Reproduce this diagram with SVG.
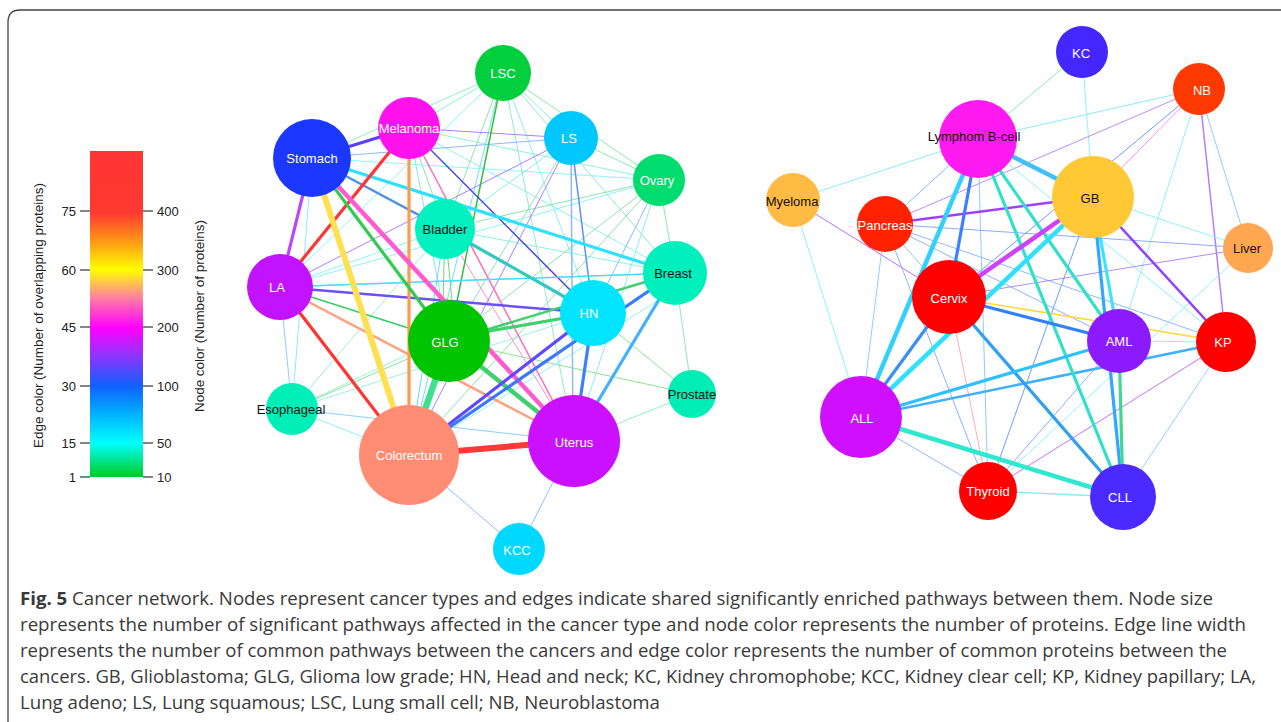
<svg xmlns="http://www.w3.org/2000/svg" width="1281" height="722" viewBox="0 0 1281 722">
<defs>
<linearGradient id="bar" x1="0" y1="0" x2="0" y2="1">
<stop offset="0" stop-color="#ff3535"/>
<stop offset="0.19" stop-color="#ff3a30"/>
<stop offset="0.27" stop-color="#ff9018"/>
<stop offset="0.365" stop-color="#ffff00"/>
<stop offset="0.45" stop-color="#ff80a0"/>
<stop offset="0.543" stop-color="#ff00ff"/>
<stop offset="0.62" stop-color="#9a30ff"/>
<stop offset="0.72" stop-color="#1060ff"/>
<stop offset="0.81" stop-color="#00b4ff"/>
<stop offset="0.896" stop-color="#00ffff"/>
<stop offset="1" stop-color="#00cc22"/>
</linearGradient>
</defs>
<style>
.lbl{font-family:"Liberation Sans",Arial,sans-serif;font-size:13px;text-anchor:middle}
.w{fill:#ffffff}
.b{fill:#111111}
.tick{stroke:#333;stroke-width:1.2}
.tl{font-family:"Liberation Sans",Arial,sans-serif;font-size:13px;fill:#222}
.cap{font-family:"Open Sans","Liberation Sans",sans-serif;font-size:17.5px;fill:#3a3a3a}
#edges line{fill:none;stroke-linecap:butt}
.t{stroke-width:0.9}
.m{stroke-width:1.5}
.k{stroke-width:2.5}
.x{stroke-width:3.2}
.xx{stroke-width:4.5}
</style>
<rect width="1281" height="722" fill="#ffffff"/>
<path d="M8,722 L8,22 Q8,10 20,10 L1281,10" fill="none" stroke="#444" stroke-width="1.3"/>

<g id="legend">
<rect x="90" y="151" width="53" height="326" fill="url(#bar)"/>
<line class="tick" x1="80" y1="211" x2="90" y2="211"/>
<line class="tick" x1="80" y1="270" x2="90" y2="270"/>
<line class="tick" x1="80" y1="327" x2="90" y2="327"/>
<line class="tick" x1="80" y1="386" x2="90" y2="386"/>
<line class="tick" x1="80" y1="443" x2="90" y2="443"/>
<line class="tick" x1="80" y1="477" x2="90" y2="477"/>
<line class="tick" x1="143" y1="211" x2="153" y2="211"/>
<line class="tick" x1="143" y1="270" x2="153" y2="270"/>
<line class="tick" x1="143" y1="327" x2="153" y2="327"/>
<line class="tick" x1="143" y1="386" x2="153" y2="386"/>
<line class="tick" x1="143" y1="443" x2="153" y2="443"/>
<line class="tick" x1="143" y1="477" x2="153" y2="477"/>
<g class="tl" text-anchor="end">
<text x="76" y="216">75</text>
<text x="76" y="275">60</text>
<text x="76" y="332">45</text>
<text x="76" y="391">30</text>
<text x="76" y="448">15</text>
<text x="76" y="482">1</text>
</g>
<g class="tl">
<text x="157" y="216">400</text>
<text x="157" y="275">300</text>
<text x="157" y="332">200</text>
<text x="157" y="391">100</text>
<text x="157" y="448">50</text>
<text x="157" y="482">10</text>
</g>
<text class="tl" transform="translate(42.5,315.5) rotate(-90)" text-anchor="middle" textLength="265" lengthAdjust="spacingAndGlyphs">Edge color (Number of overlapping proteins)</text>
<text class="tl" transform="translate(203.5,316) rotate(-90)" text-anchor="middle" textLength="192" lengthAdjust="spacingAndGlyphs">Node color (Number of proteins)</text>
</g>

<g id="edges">
<!-- left network thin -->
<line class="t" stroke="#80e8ff" x1="312" y1="158" x2="292" y2="409"/>
<line class="t" stroke="#80c8ff" x1="280" y1="287" x2="292" y2="409"/>
<line class="t" stroke="#70e090" x1="292" y1="409" x2="449" y2="341"/>
<line class="t" stroke="#90f0d0" x1="292" y1="409" x2="449" y2="335"/>
<line class="t" stroke="#90f0d0" x1="292" y1="409" x2="445" y2="229"/>
<line class="t" stroke="#90f0e0" x1="292" y1="409" x2="593" y2="313"/>
<line class="t" stroke="#80f0ff" x1="292" y1="409" x2="409" y2="455"/>
<line class="t" stroke="#80c8ff" x1="292" y1="409" x2="574" y2="441"/>
<line class="t" stroke="#80b8ff" x1="409" y1="455" x2="519" y2="549"/>
<line class="t" stroke="#80b8ff" x1="574" y1="441" x2="519" y2="549"/>
<line class="t" stroke="#80f0c0" x1="574" y1="441" x2="692" y2="394"/>
<line class="t" stroke="#80e080" x1="593" y1="313" x2="692" y2="394"/>
<line class="t" stroke="#80e8a0" x1="675" y1="273" x2="692" y2="394"/>
<line class="t" stroke="#80e8a0" x1="659" y1="180" x2="675" y2="273"/>
<line class="t" stroke="#80e8a0" x1="659" y1="180" x2="571" y2="138"/>
<line class="t" stroke="#80e8a0" x1="659" y1="180" x2="503" y2="73"/>
<line class="t" stroke="#80f0e0" x1="571" y1="138" x2="503" y2="73"/>
<line class="t" stroke="#80e8c0" x1="503" y1="73" x2="675" y2="273"/>
<line class="t" stroke="#80f0c0" x1="503" y1="73" x2="409" y2="128"/>
<line class="t" stroke="#80f0c0" x1="503" y1="73" x2="312" y2="158"/>
<line class="t" stroke="#80f0e0" x1="503" y1="73" x2="593" y2="313"/>
<line class="t" stroke="#80e8d0" x1="503" y1="73" x2="574" y2="441"/>
<line class="t" stroke="#60d8ff" x1="503" y1="73" x2="409" y2="455"/>
<line class="t" stroke="#80e0a0" x1="503" y1="73" x2="445" y2="229"/>
<line class="t" stroke="#80f0ff" x1="503" y1="73" x2="280" y2="287"/>
<line class="t" stroke="#80f0d0" x1="409" y1="128" x2="659" y2="180"/>
<line class="t" stroke="#80f0e0" x1="409" y1="128" x2="675" y2="273"/>
<line class="t" stroke="#80e0a0" x1="409" y1="128" x2="445" y2="229"/>
<line class="t" stroke="#80e0e0" x1="409" y1="128" x2="449" y2="341"/>
<line class="t" stroke="#80f0ff" x1="312" y1="158" x2="659" y2="180"/>
<line class="t" stroke="#80b0ff" x1="312" y1="158" x2="571" y2="138"/>
<line class="t" stroke="#60d060" x1="445" y1="229" x2="442" y2="341"/>
<line class="t" stroke="#60d060" x1="445" y1="229" x2="456" y2="341"/>
<line class="t" stroke="#ff80c0" x1="445" y1="229" x2="574" y2="441"/>
<line class="t" stroke="#60d0ff" x1="445" y1="229" x2="409" y2="455"/>
<line class="t" stroke="#80e0a0" x1="445" y1="229" x2="659" y2="180"/>
<line class="t" stroke="#80f0e0" x1="445" y1="229" x2="675" y2="273"/>
<line class="t" stroke="#80f0d0" x1="445" y1="229" x2="571" y2="138"/>
<line class="t" stroke="#80f0ff" x1="445" y1="229" x2="280" y2="287"/>
<line class="t" stroke="#80f0ff" x1="280" y1="287" x2="659" y2="180"/>
<line class="t" stroke="#80e0a0" x1="449" y1="341" x2="659" y2="180"/>
<line class="t" stroke="#80e0c0" x1="449" y1="341" x2="571" y2="138"/>
<line class="t" stroke="#80b0ff" x1="593" y1="313" x2="659" y2="180"/>
<line class="t" stroke="#80e8ff" x1="574" y1="441" x2="659" y2="180"/>
<line class="t" stroke="#80e0a0" x1="409" y1="455" x2="659" y2="180"/>
<line class="t" stroke="#80e080" x1="449" y1="341" x2="692" y2="394"/>
<line class="t" stroke="#a070ff" x1="571" y1="138" x2="280" y2="287"/>
<line class="t" stroke="#a070ff" x1="571" y1="138" x2="409" y2="455"/>
<line class="t" stroke="#a070ff" x1="409" y1="128" x2="571" y2="138"/>
<line class="t" stroke="#80f0e0" x1="280" y1="287" x2="675" y2="273"/>
<line class="t" stroke="#80f0ff" x1="409" y1="455" x2="675" y2="290"/>
<!-- left network thick -->
<line class="m" stroke="#90b8ff" x1="571" y1="138" x2="573" y2="441"/>
<line class="m" stroke="#5a90ff" x1="571" y1="138" x2="593" y2="313"/>
<line class="m" stroke="#30c040" x1="503" y1="73" x2="449" y2="341"/>
<line class="m" stroke="#ff70b0" x1="409" y1="128" x2="574" y2="441"/>
<line class="m" stroke="#4848e0" x1="409" y1="128" x2="593" y2="313"/>
<line class="m" stroke="#30d060" x1="280" y1="287" x2="449" y2="341"/>
<line class="m" stroke="#50d8ff" x1="280" y1="287" x2="675" y2="273"/>
<line class="k" stroke="#6a50ff" x1="280" y1="287" x2="593" y2="313"/>
<line class="k" stroke="#ffa080" x1="280" y1="287" x2="574" y2="441"/>
<line class="k" stroke="#40d070" x1="449" y1="341" x2="675" y2="273"/>
<line class="x" stroke="#40d070" x1="449" y1="338" x2="593" y2="313"/>
<line class="x" stroke="#30e0ff" x1="312" y1="158" x2="675" y2="273"/>
<line class="k" stroke="#4a90e8" x1="312" y1="158" x2="445" y2="229"/>
<line class="x" stroke="#30c8c0" x1="445" y1="229" x2="593" y2="313"/>
<line class="x" stroke="#5a40ff" x1="312" y1="158" x2="409" y2="128"/>
<line class="x" stroke="#b848ff" x1="312" y1="158" x2="280" y2="287"/>
<line class="x" stroke="#ff3535" x1="409" y1="128" x2="280" y2="287"/>
<line class="x" stroke="#ff3535" x1="280" y1="287" x2="409" y2="455"/>
<line class="x" stroke="#ff9a4a" x1="409" y1="128" x2="409" y2="455"/>
<line class="xx" stroke="#ff5ad0" x1="312" y1="158" x2="574" y2="441"/>
<line class="x" stroke="#30cc50" x1="312" y1="158" x2="449" y2="341"/>
<line class="xx" stroke="#40d070" x1="449" y1="341" x2="574" y2="441"/>
<line class="x" stroke="#3a78ff" x1="409" y1="455" x2="675" y2="273"/>
<line class="x" stroke="#6048ff" x1="409" y1="455" x2="593" y2="313"/>
<line class="x" stroke="#3a80ff" x1="574" y1="441" x2="593" y2="313"/>
<line class="x" stroke="#40b0ff" x1="574" y1="441" x2="675" y2="273"/>
<line stroke="#ffe050" stroke-width="6" x1="312" y1="158" x2="409" y2="455"/>
<line stroke="#40e090" stroke-width="6.5" x1="409" y1="455" x2="449" y2="341"/>
<line stroke="#ff3838" stroke-width="6" x1="409" y1="455" x2="574" y2="441"/>

<!-- right network thin -->
<line class="t" stroke="#80e8a0" x1="978" y1="139" x2="1082" y2="52"/>
<line class="t" stroke="#80e8ff" x1="978" y1="139" x2="1199" y2="89"/>
<line class="t" stroke="#80e8ff" x1="978" y1="139" x2="793" y2="200"/>
<line class="t" stroke="#80b0ff" x1="978" y1="139" x2="885" y2="224"/>
<line class="t" stroke="#80c8ff" x1="978" y1="139" x2="988" y2="491"/>
<line class="t" stroke="#80f0ff" x1="1082" y1="52" x2="1093" y2="197"/>
<line class="t" stroke="#ff80ff" x1="1199" y1="89" x2="1093" y2="197"/>
<line class="t" stroke="#6090ff" x1="1199" y1="89" x2="949" y2="297"/>
<line class="t" stroke="#b080ff" x1="1199" y1="89" x2="885" y2="224"/>
<line class="t" stroke="#80f0ff" x1="1199" y1="89" x2="1119" y2="341"/>
<line class="m" stroke="#b080ff" x1="1199" y1="89" x2="1226" y2="342"/>
<line class="t" stroke="#80c8ff" x1="1199" y1="89" x2="1248" y2="248"/>
<line class="t" stroke="#80f0ff" x1="1093" y1="197" x2="1248" y2="248"/>
<line class="t" stroke="#6090ff" x1="1093" y1="197" x2="988" y2="491"/>
<line class="t" stroke="#80f0ff" x1="978" y1="139" x2="1226" y2="342"/>
<line class="t" stroke="#b060ff" x1="793" y1="200" x2="949" y2="297"/>
<line class="t" stroke="#80f0ff" x1="793" y1="200" x2="861" y2="417"/>
<line class="t" stroke="#80c8ff" x1="885" y1="224" x2="861" y2="417"/>
<line class="t" stroke="#ffa080" x1="885" y1="224" x2="949" y2="297"/>
<line class="t" stroke="#80a8ff" x1="885" y1="224" x2="988" y2="491"/>
<line class="t" stroke="#80a8ff" x1="885" y1="224" x2="1119" y2="341"/>
<line class="t" stroke="#80b0ff" x1="885" y1="224" x2="1226" y2="342"/>
<line class="t" stroke="#80f0ff" x1="885" y1="224" x2="1123" y2="497"/>
<line class="t" stroke="#80a0ff" x1="1248" y1="248" x2="885" y2="224"/>
<line class="t" stroke="#a080ff" x1="1248" y1="248" x2="949" y2="297"/>
<line class="t" stroke="#80f0ff" x1="1248" y1="248" x2="988" y2="491"/>
<line class="t" stroke="#ffa0b0" x1="949" y1="297" x2="988" y2="491"/>
<line class="t" stroke="#80b0ff" x1="861" y1="417" x2="988" y2="491"/>
<line class="t" stroke="#c060ff" x1="988" y1="491" x2="1226" y2="342"/>
<line class="t" stroke="#80a0ff" x1="988" y1="491" x2="1119" y2="341"/>
<line class="t" stroke="#80d0ff" x1="1226" y1="342" x2="1123" y2="497"/>
<line class="t" stroke="#80f0ff" x1="1226" y1="342" x2="1119" y2="341"/>
<line class="m" stroke="#80f0f0" x1="988" y1="491" x2="1123" y2="497"/>
<!-- right network thick -->
<line class="m" stroke="#ffd840" x1="949" y1="297" x2="1226" y2="342"/>
<line class="k" stroke="#9040ff" x1="1093" y1="197" x2="1226" y2="342"/>
<line class="k" stroke="#a040ff" x1="885" y1="224" x2="1093" y2="197"/>
<line class="k" stroke="#40b0ff" x1="861" y1="417" x2="1226" y2="342"/>
<line class="x" stroke="#3a80ff" x1="978" y1="139" x2="949" y2="297"/>
<line class="x" stroke="#30e0c8" x1="978" y1="139" x2="1123" y2="497"/>
<line class="x" stroke="#30e0c8" x1="978" y1="139" x2="1119" y2="341"/>
<line class="x" stroke="#40e0ff" x1="1093" y1="197" x2="1119" y2="341"/>
<line class="x" stroke="#30a8ff" x1="1093" y1="197" x2="1123" y2="497"/>
<line class="x" stroke="#3080ff" x1="949" y1="297" x2="1119" y2="341"/>
<line class="x" stroke="#30a0f0" x1="949" y1="297" x2="1123" y2="497"/>
<line class="x" stroke="#30c0ff" x1="861" y1="417" x2="1119" y2="341"/>
<line class="x" stroke="#40d890" x1="1119" y1="341" x2="1123" y2="497"/>
<line class="x" stroke="#3a90f0" x1="861" y1="417" x2="949" y2="297"/>
<line class="xx" stroke="#30d0ff" x1="978" y1="139" x2="861" y2="417"/>
<line class="xx" stroke="#40c0ff" x1="978" y1="139" x2="1093" y2="197"/>
<line class="xx" stroke="#d040ff" x1="1093" y1="197" x2="949" y2="297"/>
<line class="xx" stroke="#30e0ff" x1="1093" y1="197" x2="861" y2="417"/>
<line class="xx" stroke="#30e8d0" x1="861" y1="417" x2="1123" y2="497"/>
</g>

<g id="n-lsc"><circle cx="503" cy="73" r="28" fill="#03cf3e"/><text class="lbl w" x="503" y="78">LSC</text></g>
<g id="n-melanoma"><circle cx="409" cy="128" r="31" fill="#ff12ee"/><text class="lbl w" x="409" y="133">Melanoma</text></g>
<g id="n-stomach"><circle cx="312" cy="158" r="39" fill="#1c37ff"/><text class="lbl w" x="312" y="163">Stomach</text></g>
<g id="n-ls"><circle cx="571" cy="138" r="27" fill="#00c8ff"/><text class="lbl w" x="569" y="143">LS</text></g>
<g id="n-ovary"><circle cx="659" cy="180" r="26" fill="#00dd6e"/><text class="lbl w" x="657" y="185">Ovary</text></g>
<g id="n-bladder"><circle cx="445" cy="229" r="30" fill="#00f0c0"/><text class="lbl b" x="445" y="234">Bladder</text></g>
<g id="n-breast"><circle cx="675" cy="273" r="32" fill="#00efbc"/><text class="lbl b" x="673" y="278">Breast</text></g>
<g id="n-la"><circle cx="280" cy="287" r="33" fill="#c312ff"/><text class="lbl w" x="277" y="292">LA</text></g>
<g id="n-hn"><circle cx="593" cy="313" r="33" fill="#00e4ff"/><text class="lbl w" x="589" y="318">HN</text></g>
<g id="n-glg"><circle cx="449" cy="341" r="41" fill="#00c400"/><text class="lbl w" x="445" y="347">GLG</text></g>
<g id="n-esophageal"><circle cx="292" cy="409" r="26" fill="#00efb8"/><text class="lbl b" x="291" y="414">Esophageal</text></g>
<g id="n-colorectum"><circle cx="409" cy="455" r="50" fill="#ff8c73"/><text class="lbl w" x="409" y="460">Colorectum</text></g>
<g id="n-uterus"><circle cx="574" cy="441" r="46" fill="#cb10ff"/><text class="lbl w" x="574" y="447">Uterus</text></g>
<g id="n-prostate"><circle cx="692" cy="394" r="24" fill="#00edb5"/><text class="lbl b" x="692" y="399">Prostate</text></g>
<g id="n-kcc"><circle cx="519" cy="549" r="26" fill="#00d8ff"/><text class="lbl w" x="517" y="555">KCC</text></g>

<g id="n-kc"><circle cx="1082" cy="52" r="26" fill="#4426ff"/><text class="lbl w" x="1081" y="58">KC</text></g>
<g id="n-nb"><circle cx="1199" cy="89" r="26" fill="#ff3a00"/><text class="lbl w" x="1202" y="95">NB</text></g>
<g id="n-lymphom"><circle cx="978" cy="139" r="39" fill="#ff1af2"/><text class="lbl b" x="974" y="141">Lymphom B-cell</text></g>
<g id="n-gb"><circle cx="1093" cy="197" r="41" fill="#ffc835"/><text class="lbl b" x="1090" y="203">GB</text></g>
<g id="n-myeloma"><circle cx="793" cy="200" r="27" fill="#ffbb44"/><text class="lbl b" x="792" y="206">Myeloma</text></g>
<g id="n-pancreas"><circle cx="885" cy="224" r="28" fill="#ff2200"/><text class="lbl w" x="885" y="230">Pancreas</text></g>
<g id="n-liver"><circle cx="1248" cy="248" r="25" fill="#ffa752"/><text class="lbl b" x="1247" y="253">Liver</text></g>
<g id="n-cervix"><circle cx="949" cy="297" r="37" fill="#ff0000"/><text class="lbl w" x="949" y="303">Cervix</text></g>
<g id="n-aml"><circle cx="1119" cy="341" r="32" fill="#8c1aff"/><text class="lbl w" x="1119" y="346">AML</text></g>
<g id="n-kp"><circle cx="1226" cy="342" r="30" fill="#ff0000"/><text class="lbl w" x="1223" y="347">KP</text></g>
<g id="n-all"><circle cx="861" cy="417" r="41" fill="#d10fff"/><text class="lbl w" x="862" y="423">ALL</text></g>
<g id="n-thyroid"><circle cx="988" cy="491" r="29" fill="#ff0000"/><text class="lbl w" x="988" y="496">Thyroid</text></g>
<g id="n-cll"><circle cx="1123" cy="497" r="33" fill="#4a2aff"/><text class="lbl w" x="1120" y="502">CLL</text></g>

<g id="caption">
<text class="cap" x="20" y="605" textLength="1193" lengthAdjust="spacingAndGlyphs"><tspan font-weight="bold">Fig. 5</tspan> Cancer network. Nodes represent cancer types and edges indicate shared significantly enriched pathways between them. Node size</text>
<text class="cap" x="20" y="631" textLength="1226" lengthAdjust="spacingAndGlyphs">represents the number of significant pathways affected in the cancer type and node color represents the number of proteins. Edge line width</text>
<text class="cap" x="20" y="657" textLength="1207" lengthAdjust="spacingAndGlyphs">represents the number of common pathways between the cancers and edge color represents the number of common proteins between the</text>
<text class="cap" x="20" y="683" textLength="1236" lengthAdjust="spacingAndGlyphs">cancers. GB, Glioblastoma; GLG, Glioma low grade; HN, Head and neck; KC, Kidney chromophobe; KCC, Kidney clear cell; KP, Kidney papillary; LA,</text>
<text class="cap" x="20" y="709" textLength="640" lengthAdjust="spacingAndGlyphs">Lung adeno; LS, Lung squamous; LSC, Lung small cell; NB, Neuroblastoma</text>
</g>
</svg>
